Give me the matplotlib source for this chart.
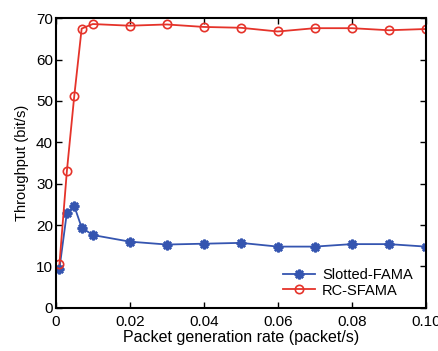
import matplotlib
matplotlib.use("Agg")
import matplotlib.pyplot as plt

plt.rcParams['font.family'] = ['Liberation Sans', 'DejaVu Sans']

x_vals = [0.001, 0.003, 0.005, 0.007, 0.01, 0.02, 0.03, 0.04, 0.05, 0.06, 0.07, 0.08, 0.09, 0.10]
slotted_fama = [9.5, 23.0, 24.6, 19.4, 17.6, 16.0, 15.3, 15.5, 15.7, 14.8, 14.8, 15.4, 15.4, 14.8]
rc_sfama = [10.6, 33.0, 51.2, 67.5, 68.6, 68.2, 68.5, 67.9, 67.7, 66.8, 67.6, 67.6, 67.1, 67.4]

xticks = [0, 0.02, 0.04, 0.06, 0.08, 0.10]
xticklabels = ['0', '0.02', '0.04', '0.06', '0.08', '0.10']
yticks = [0, 10, 20, 30, 40, 50, 60, 70]

fig = plt.figure(figsize=(4.39, 3.51), dpi=100)
ax = fig.add_axes([0.127, 0.123, 0.843, 0.825])

ax.plot(x_vals, slotted_fama, color='#3555b0', marker=(8, 2, 0), markersize=7,
        markeredgewidth=1.8, linewidth=1.3, label='Slotted-FAMA')
ax.plot(x_vals, rc_sfama, color='#e5332a', marker='o', markersize=6,
        markerfacecolor='none', markeredgewidth=1.2, linewidth=1.3, label='RC-SFAMA')

ax.set_xlim(0, 0.1)
ax.set_ylim(0, 70)
ax.set_xticks(xticks)
ax.set_xticklabels(xticklabels)
ax.set_yticks(yticks)
ax.tick_params(direction='in', top=True, right=True, labelsize=11, length=4, width=1)
ax.tick_params(axis='x', pad=5)
ax.tick_params(axis='y', pad=2)
for s in ax.spines.values():
    s.set_linewidth(1.5)

ax.set_xlabel('Packet generation rate (packet/s)', fontsize=11.5, labelpad=1)
ax.set_ylabel('Throughput (bit/s)', fontsize=10.5, labelpad=5)

ax.legend(loc='lower right', frameon=False, fontsize=10.5, handlelength=2.2,
          borderaxespad=0.5, labelspacing=0.1, handletextpad=0.5,
          bbox_to_anchor=(1.0, -0.01))

fig.savefig('out.png', dpi=100)
